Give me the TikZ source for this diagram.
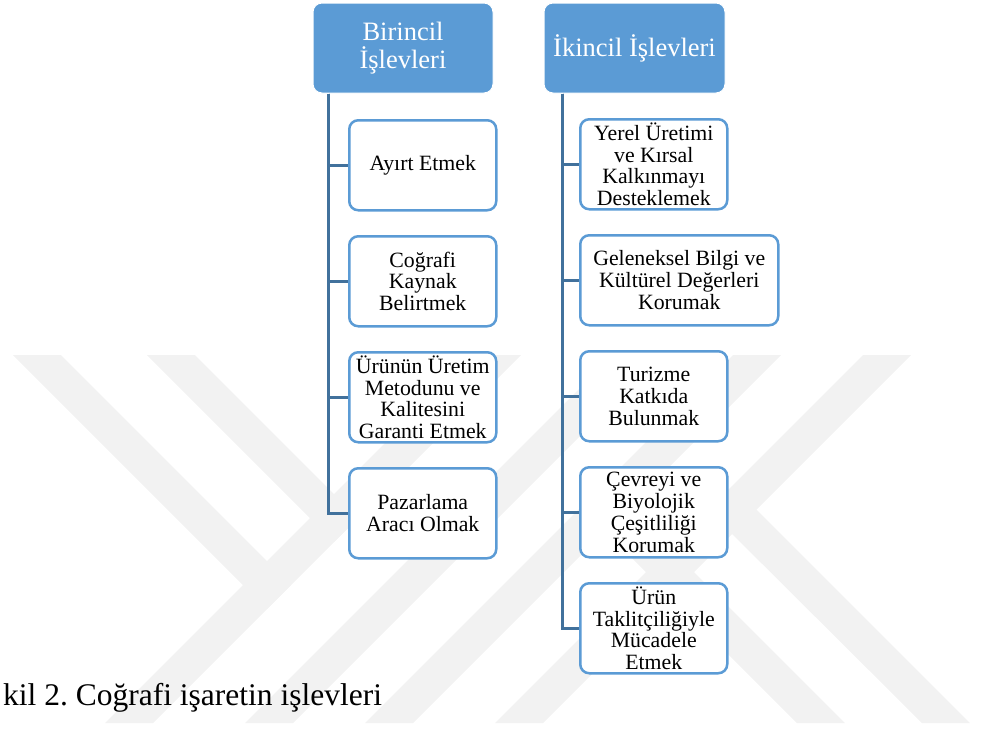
\documentclass[tikz,border=0pt]{standalone}
\usepackage{fontspec}
\setmainfont{Liberation Serif}
\usetikzlibrary{positioning}
\definecolor{headblue}{HTML}{5B9BD5}
\definecolor{boxblue}{HTML}{5B9BD5}
\definecolor{linkblue}{HTML}{41719C}
\definecolor{markgray}{HTML}{F2F2F2}
\frenchspacing

\begin{document}
\begin{tikzpicture}[x=1pt, y=-1pt, node distance=23.5pt,
	head/.style={draw=white, line width=1pt, rectangle, rounded corners=9pt, fill=headblue, text=white, minimum height=90pt, align=center, font=\fontsize{26.5}{28.5}\selectfont},
	item/.style={draw=boxblue, line width=2.5pt, rectangle, rounded corners=9pt, fill=white, minimum height=90pt, minimum width=147pt, inner sep=0pt, align=center, font=\fontsize{21.8}{21.8}\selectfont},
	link/.style={draw=linkblue, line width=3pt}]
	\useasboundingbox (0,0) rectangle (983,729);
	%watermark
	\fill[markgray] (13,355) -- (61,355) -- (291,585) -- (267,609) -- cycle;
	\fill[markgray] (147,355) -- (195,355) -- (358,518) -- (334,542) -- cycle;
	\fill[markgray] (105,723) -- (153,723) -- (521,355) -- (473,355) -- cycle;
	\fill[markgray] (245,723) -- (293,723) -- (661,355) -- (613,355) -- cycle;
	\fill[markgray] (365,723) -- (413,723) -- (781,355) -- (733,355) -- cycle;
	\fill[markgray] (495,723) -- (543,723) -- (911,355) -- (863,355) -- cycle;
	\fill[markgray] (581,507) -- (605,483) -- (845,723) -- (797,723) -- cycle;
	\fill[markgray] (708,510) -- (733,486) -- (970,723) -- (922,723) -- cycle;
	%diagram
	\node[head, minimum width=180pt] (birincil) at (403,48) {Birincil\\İşlevleri};
	\node[head, minimum width=181pt] (ikincil) at (634.5,48) {İkincil İşlevleri};

	\node[item, anchor=north west] (ayirt) at (348,119) {Ayırt Etmek};
	\node[item, below=of ayirt] (kaynak) {Coğrafi\\Kaynak\\Belirtmek};
	\node[item, below=of kaynak] (garanti) {Ürünün Üretim\\Metodunu ve\\Kalitesini\\Garanti Etmek};
	\node[item, below=of garanti] (pazar) {Pazarlama\\Aracı Olmak};

	\node[item, anchor=north west] (yerel) at (579,118) {Yerel Üretimi\\ve Kırsal\\Kalkınmayı\\Desteklemek};
	\node[item, minimum width=198pt, below=of yerel.south west, anchor=north west] (gelenek) {Geleneksel Bilgi ve\\Kültürel Değerleri\\Korumak};
	\node[item, below=of gelenek.south west, anchor=north west] (turizm) {Turizme\\Katkıda\\Bulunmak};
	\node[item, below=of turizm] (cevre) {Çevreyi ve\\Biyolojik\\Çeşitliliği\\Korumak};
	\node[item, below=of cevre] (taklit) {Ürün\\Taklitçiliğiyle\\Mücadele\\Etmek};

	%links
	\coordinate (lefttrunk) at ([xshift=16pt]birincil.south west);
	\foreach \n in {ayirt, kaynak, garanti, pazar}
		\draw[link] (lefttrunk) |- (\n.west);
	\coordinate (righttrunk) at ([xshift=19pt]ikincil.south west);
	\foreach \n in {yerel, gelenek, turizm, cevre, taklit}
		\draw[link] (righttrunk) |- (\n.west);

	\node[anchor=base west, inner sep=0pt, font=\fontsize{31.5}{36}\selectfont] (caption) at (3,705) {kil 2. Coğrafi işaretin işlevleri};
\end{tikzpicture}
\end{document}
